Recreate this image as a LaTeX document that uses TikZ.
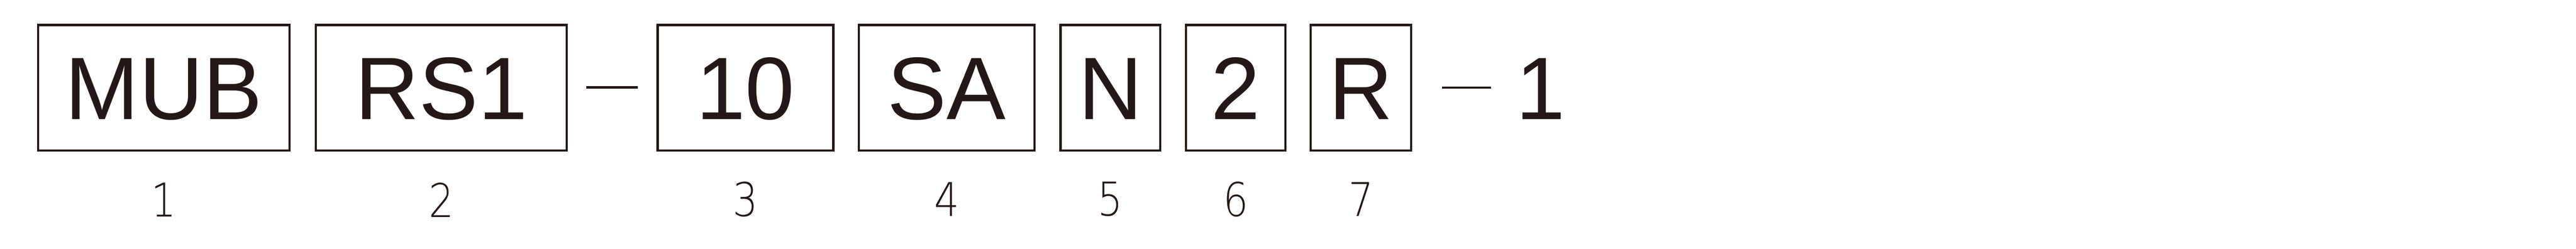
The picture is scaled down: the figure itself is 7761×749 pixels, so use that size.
\documentclass[tikz,border=0pt]{standalone}
\usepackage{fontspec}
\setmainfont{Liberation Sans}
\newfontfamily\numfont{DejaVu Sans ExtraLight}[FakeStretch=0.85]
\definecolor{ink}{HTML}{231815}
\begin{document}
\begin{tikzpicture}[x=0.1pt,y=-0.1pt,
  box/.style={draw=ink, line width=0.65pt, minimum height=37.75pt, inner sep=0pt,
    text height=19.1pt, text depth=0pt, font=\fontsize{26.7}{30}\selectfont, text=ink},
  tailtext/.style={inner sep=0pt, text height=19.1pt, text depth=0pt,
    font=\fontsize{26.7}{30}\selectfont, text=ink},
  num/.style={font=\numfont\fontsize{14}{16}\selectfont, text=ink, inner sep=0pt},
  sepline/.style={draw=ink, line width=0.7pt}]
\useasboundingbox (0,0) rectangle (7761,749);
\node[box, minimum width=75.85pt] (b1) at (493.5,264) {MUB};
\node[box, minimum width=75.65pt] (b2) at (1329.5,264) {RS1};
\node[box, minimum width=52.95pt] (b3) at (2246,264) {10};
\node[box, minimum width=52.95pt] (b4) at (2852,264) {SA};
\node[box, minimum width=30.05pt] (b5) at (3345.5,264) {N};
\node[box, minimum width=29.95pt] (b6) at (3723,264) {2};
\node[box, minimum width=30.25pt] (b7) at (4100.5,264) {R};
\node[tailtext] (tail) at (4641,264) {1};
\coordinate (d1a) at (1766,263);
\coordinate (d1b) at (1922,263);
\coordinate (d2a) at (4345,264);
\coordinate (d2b) at (4492,264);
\draw[sepline] (d1a) -- (d1b);
\draw[sepline] (d2a) -- (d2b);
\node[num] (n1) at (493.5,602) {1};
\node[num] (n2) at (1329.5,602) {2};
\node[num] (n3) at (2246,600) {3};
\node[num] (n4) at (2852,600) {4};
\node[num] (n5) at (3345.5,600) {5};
\node[num] (n6) at (3723,600) {6};
\node[num] (n7) at (4100.5,600) {7};
\end{tikzpicture}
\end{document}
